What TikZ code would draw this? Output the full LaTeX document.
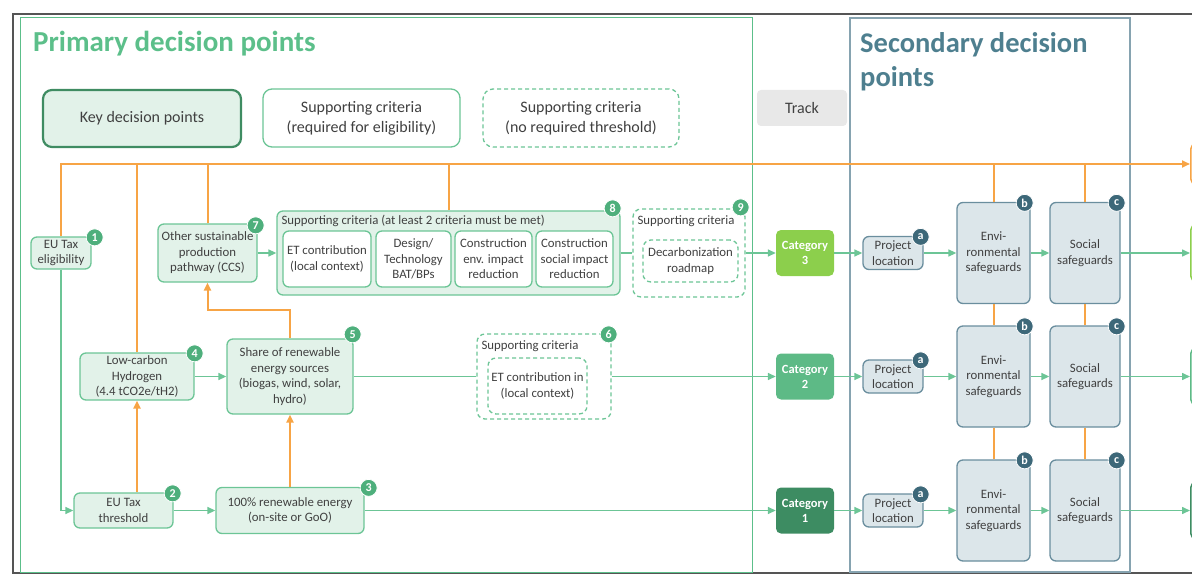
\documentclass[tikz,border=0pt]{standalone}
\usepackage{fontspec}
\setmainfont{Carlito}
\usetikzlibrary{arrows.meta, positioning, calc}
\definecolor{PrimGreen}{HTML}{5CBF8A}
\definecolor{LineGreen}{HTML}{6CC596}
\definecolor{FillGreen}{HTML}{E2F2E9}
\definecolor{KeyGreen}{HTML}{3F8C62}
\definecolor{BadgeGreen}{HTML}{4EAF7C}
\definecolor{SecBlue}{HTML}{86A3B0}
\definecolor{SecTitle}{HTML}{4E7F8F}
\definecolor{SecFill}{HTML}{DCE6EA}
\definecolor{SecLine}{HTML}{6A8E9E}
\definecolor{BadgeBlue}{HTML}{3D6879}
\definecolor{TrackOrange}{HTML}{F7A445}
\definecolor{CatThree}{HTML}{8CCF4C}
\definecolor{CatTwo}{HTML}{5DBA86}
\definecolor{CatOne}{HTML}{3D8C62}
\definecolor{TextGray}{HTML}{404040}
\definecolor{TrackGray}{HTML}{E8E8E8}
\definecolor{FrameGray}{HTML}{555555}

\begin{document}
\begin{tikzpicture}[
  x=1pt, y=-1pt,
  every node/.style={text=TextGray, font=\fontsize{12.8}{15.5}\selectfont},
  keynode/.style={draw=LineGreen, line width=1.3pt, fill=FillGreen, rounded corners=6pt, align=center, inner sep=1pt},
  critbox/.style={draw=LineGreen, line width=1.3pt, fill=white, rounded corners=6pt, align=center, inner sep=1pt},
  critdash/.style={draw=LineGreen, line width=1.3pt, dash pattern=on 4pt off 3pt, fill=white, rounded corners=8pt, align=center, inner sep=1pt},
  catnode/.style={fill=#1, rounded corners=5pt, text=white, font=\bfseries\fontsize{12.5}{15}\selectfont, align=center, minimum width=58, minimum height=46},
  secnode/.style={draw=SecLine, line width=1.3pt, fill=SecFill, rounded corners=6pt, align=center, inner sep=1pt},
  badge/.style={circle, fill=BadgeGreen, draw=white, line width=0.8pt, text=white, font=\bfseries\fontsize{12}{12}\selectfont, inner sep=0pt, minimum size=17},
  secbadge/.style={badge, fill=BadgeBlue},
  legendfont/.style={font=\fontsize{16}{20}\selectfont},
  nextbox/.style={draw=#1, line width=1.5pt, fill=white, rounded corners=5pt, minimum width=40, anchor=west},
  flowline/.style={draw=LineGreen, line width=1.5pt},
  flowarrow/.style={flowline, -{Triangle[length=8pt, width=7pt]}},
  orangeline/.style={draw=TrackOrange, line width=2pt},
  orangearrow/.style={orangeline, -{Triangle[length=8pt, width=7pt]}}
]
\useasboundingbox (0,0) rectangle (1192,575);

% frames
\draw[FrameGray, line width=1.5pt] (1200,14) -| (13,573) -- (1200,573);
\draw[PrimGreen, line width=1pt] (20,18) rectangle (752,572);
\draw[SecBlue, line width=1.8pt] (850,18) rectangle (1130,572);
\node[anchor=base west, inner sep=0pt, text=PrimGreen, font=\bfseries\fontsize{29}{34}\selectfont] (primtitle) at (33,52) {Primary decision points};
\node[anchor=north west, inner sep=0pt, align=left, text=SecTitle, font=\bfseries\fontsize{28.5}{34}\selectfont] (sectitle) at (860,32) {Secondary decision\\points};

% legend
\node[keynode, legendfont, draw=KeyGreen, line width=2.2pt, rounded corners=9pt, minimum width=198, minimum height=57] (legkey) at (142,118.5) {Key decision points};
\node[critbox, legendfont, rounded corners=9pt, minimum width=197, minimum height=58] (legreq) at (361.5,118) {Supporting criteria\\(required for eligibility)};
\node[critdash, legendfont, rounded corners=10pt, minimum width=196, minimum height=58] (legnoreq) at (581,118) {Supporting criteria\\(no required threshold)};
\node[legendfont, fill=TrackGray, rounded corners=4pt, minimum width=90, minimum height=36] (legtrack) at (802,108) {Track};

% primary decision points
\node[keynode, minimum width=60, minimum height=32] (elig) at (61,253) {EU Tax\\eligibility};
\node[keynode, minimum width=99, minimum height=58] (other) at (207.5,253) {Other sustainable\\production\\pathway (CCS)};
\node[keynode, minimum width=343, minimum height=84] (crit8) at (448.5,253) {};
\node[anchor=west, inner sep=0pt] (crit8title) at ([xshift=5pt, yshift=-11pt]crit8.north west) {Supporting criteria (at least 2 criteria must be met)};
\node[critbox, minimum width=88, minimum height=56] (etlocal) at (327,259) {ET contribution\\(local context)};
\node[critbox, minimum width=75, minimum height=56] (design) at (413.5,259) {Design/\\Technology\\BAT/BPs};
\node[critbox, minimum width=77, minimum height=56] (envred) at (493.5,259) {Construction\\env. impact\\reduction};
\node[critbox, minimum width=77, minimum height=56] (socred) at (574.5,259) {Construction\\social impact\\reduction};
\node[critdash, minimum width=112, minimum height=88] (crit9) at (689,253) {};
\node[anchor=west, inner sep=0pt] (crit9title) at ([xshift=5pt, yshift=-13pt]crit9.north west) {Supporting criteria};
\node[critdash, minimum width=95, minimum height=42] (roadmap) at (690.5,261) {Decarbonization\\roadmap};

\node[keynode, minimum width=114, minimum height=47] (hydro) at (137,376.5) {Low-carbon\\Hydrogen\\(4.4 tCO2e/tH2)};
\node[keynode, minimum width=126, minimum height=75] (share) at (290,376.5) {Share of renewable\\energy sources\\(biogas, wind, solar,\\hydro)};
\node[critdash, minimum width=134, minimum height=85] (crit6) at (544,376.5) {};
\node[anchor=west, inner sep=0pt] (crit6title) at ([xshift=5pt, yshift=-13pt]crit6.north west) {Supporting criteria};
\node[critdash, minimum width=99, minimum height=56] (etin) at (537.5,386) {ET contribution in\\(local context)};

\node[keynode, minimum width=99, minimum height=35] (thres) at (123.5,510.5) {EU Tax\\threshold};
\node[keynode, minimum width=148, minimum height=46] (renew) at (290,510.5) {100\% renewable energy\\(on-site or GoO)};

\node[badge] (n1) at ([xshift=3pt, yshift=-1pt]elig.north east) {1};
\node[badge] (n2) at ([xshift=-1pt, yshift=-1pt]thres.north east) {2};
\node[badge] (n3) at ([xshift=4pt, yshift=-1pt]renew.north east) {3};
\node[badge] (n4) at ([yshift=-1pt]hydro.north east) {4};
\node[badge] (n5) at ([xshift=-1pt, yshift=4pt]share.north east) {5};
\node[badge] (n6) at ([xshift=-3pt, yshift=-1pt]crit6.north east) {6};
\node[badge] (n7) at ([xshift=-2pt, yshift=-2pt]other.north east) {7};
\node[badge] (n8) at ([xshift=-8pt, yshift=2pt]crit8.north east) {8};
\node[badge] (n9) at ([xshift=-5pt, yshift=1pt]crit9.north east) {9};

% tracks
\node[catnode=CatThree] (cat3) at (805,253) {Category\\3};
\node[catnode=CatTwo] (cat2) at (805,376.5) {Category\\2};
\node[catnode=CatOne] (cat1) at (805,510.5) {Category\\1};

% secondary decision points
\node[secnode, minimum width=60, minimum height=33] (loc3) at (893,253) {Project\\location};
\node[secnode, minimum width=73, minimum height=101] (env3) at (993.5,253) {Envi-\\ronmental\\safeguards};
\node[secnode, minimum width=70, minimum height=101] (soc3) at (1085,253) {Social\\safeguards};
\node[secnode, minimum width=60, minimum height=33] (loc2) at (893,376.5) {Project\\location};
\node[secnode, minimum width=73, minimum height=101] (env2) at (993.5,376.5) {Envi-\\ronmental\\safeguards};
\node[secnode, minimum width=70, minimum height=101] (soc2) at (1085,376.5) {Social\\safeguards};
\node[secnode, minimum width=60, minimum height=33] (loc1) at (893,510.5) {Project\\location};
\node[secnode, minimum width=73, minimum height=101] (env1) at (993.5,510.5) {Envi-\\ronmental\\safeguards};
\node[secnode, minimum width=70, minimum height=101] (soc1) at (1085,510.5) {Social\\safeguards};

\node[secbadge] (a3) at ([xshift=-3pt, yshift=-1pt]loc3.north east) {a};
\node[secbadge] (b3) at ([xshift=-6pt, yshift=-1pt]env3.north east) {b};
\node[secbadge] (c3) at ([xshift=-4pt, yshift=-1pt]soc3.north east) {c};
\node[secbadge] (a2) at ([xshift=-3pt, yshift=-1pt]loc2.north east) {a};
\node[secbadge] (b2) at ([xshift=-6pt, yshift=-1pt]env2.north east) {b};
\node[secbadge] (c2) at ([xshift=-4pt, yshift=-1pt]soc2.north east) {c};
\node[secbadge] (a1) at ([xshift=-3pt, yshift=-1pt]loc1.north east) {a};
\node[secbadge] (b1) at ([xshift=-6pt, yshift=-1pt]env1.north east) {b};
\node[secbadge] (c1) at ([xshift=-4pt, yshift=-1pt]soc1.north east) {c};

% next steps (cut off at the right edge)
\node[nextbox=TrackOrange, minimum height=40] (nextO) at (1190,164) {};
\node[nextbox=CatThree, minimum height=56] (next3) at (1190,253) {};
\node[nextbox=CatTwo, minimum height=56] (next2) at (1190,376.5) {};
\node[nextbox=CatOne, minimum height=56] (next1) at (1190,510.5) {};

% orange connections
\draw[orangearrow] (elig.north) |- (nextO.west);
\draw[orangeline] (hydro.north) -- (hydro.north |- nextO.west);
\draw[orangeline] (other.north) -- (other.north |- nextO.west);
\draw[orangeline] (crit8.north) -- (crit8.north |- nextO.west);
\draw[orangeline] (env3.north) -- (env3.north |- nextO.west);
\draw[orangeline] (soc3.north) -- (soc3.north |- nextO.west);
\draw[orangeline] (env3.south) -- (env2.north);
\draw[orangeline] (env2.south) -- (env1.north);
\draw[orangeline] (soc3.south) -- (soc2.north);
\draw[orangeline] (soc2.south) -- (soc1.north);
\draw[orangearrow] (thres.north -| hydro.south) -- (hydro.south);
\draw[orangearrow] (renew.north) -- (share.south);
\draw[orangearrow] (share.north) -- ++(0,-28) -| (other.south);

% green connections
\draw[flowarrow] (elig.south) |- (thres.west);
\draw[flowarrow] (thres.east) -- (renew.west);
\draw[flowarrow] (renew.east) -- (cat1.west);
\draw[flowarrow] (hydro.east) -- (share.west);
\draw[flowline] (share.east) -- (crit6.west);
\draw[flowarrow] (crit6.east) -- (cat2.west);
\draw[flowarrow] (other.east) -- (crit8.west);
\draw[flowline] (crit8.east) -- (crit9.west);
\draw[flowarrow] (crit9.east) -- (cat3.west);

\draw[flowarrow] (cat3.east) -- (loc3.west);
\draw[flowarrow] (loc3.east) -- (env3.west);
\draw[flowarrow] (env3.east) -- (soc3.west);
\draw[flowarrow] (soc3.east) -- (next3.west);
\draw[flowarrow] (cat2.east) -- (loc2.west);
\draw[flowarrow] (loc2.east) -- (env2.west);
\draw[flowarrow] (env2.east) -- (soc2.west);
\draw[flowarrow] (soc2.east) -- (next2.west);
\draw[flowarrow] (cat1.east) -- (loc1.west);
\draw[flowarrow] (loc1.east) -- (env1.west);
\draw[flowarrow] (env1.east) -- (soc1.west);
\draw[flowarrow] (soc1.east) -- (next1.west);
\end{tikzpicture}
\end{document}
